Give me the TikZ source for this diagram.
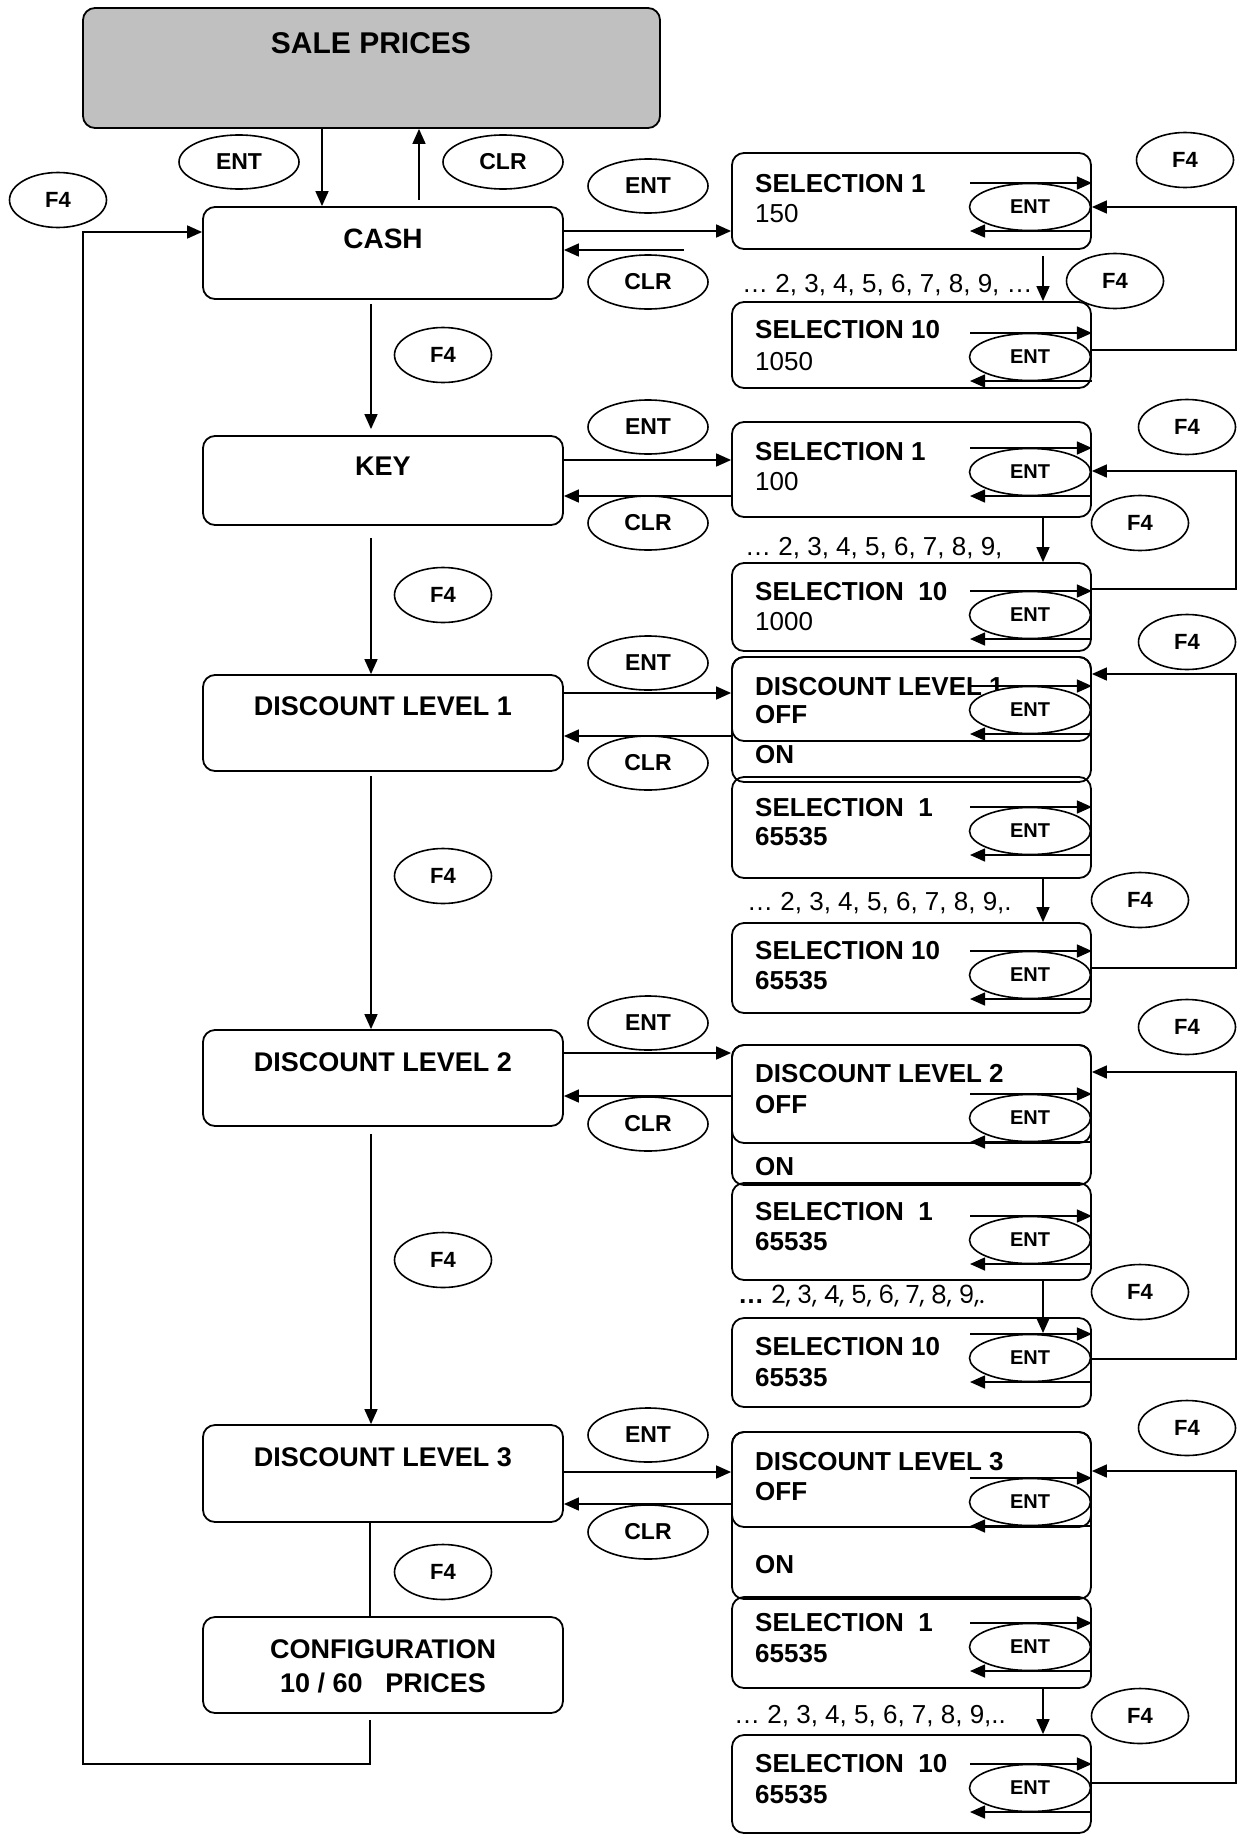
\documentclass[tikz,border=0pt]{standalone}
\usepackage{fontspec}
\setmainfont{Liberation Sans}
\newfontfamily\gothic{Poppins}
\usetikzlibrary{shapes.geometric,arrows.meta,calc}
\definecolor{salegray}{HTML}{C0C0C0}
\newcommand\fs[1]{\fontsize{#1}{#1}\selectfont}
\newcommand\rb[6][]{\node[box,#1,minimum width={(#5-#3)*1pt},minimum height={(#6-#4)*1pt}] (#2) at ({(#3+#5)/2},{(#4+#6)/2}) {};}
\newcommand\inn[2]{%
  \node[ikey] (#1e) at (1030,#2) {ENT};
  \draw[arr] (970,{#2-24}) -- (#1.east |- 0,{#2-24});
  \draw[arr] (#1.east |- 0,{#2+24}) -- (970,{#2+24});
}
\begin{document}
\begin{tikzpicture}[x=1pt,y=-1pt,
  box/.style={draw,rounded corners=12pt,line width=1.8pt,inner sep=0pt},
  key/.style={draw,ellipse,fill=white,line width=1.6pt,inner sep=0pt,minimum width=120pt,minimum height=54pt,font=\bfseries\fs{23}},
  ikey/.style={key,minimum width=121pt,minimum height=47pt,font=\bfseries\fs{20}},
  fkey/.style={key,minimum width=97pt,minimum height=55pt,font=\bfseries\fs{22}},
  arr/.style={-{Triangle[length=15pt,width=13pt]},line width=1.6pt},
  ln/.style={line width=1.6pt},
  ttl/.style={anchor=base,inner sep=0pt,font=\bfseries\fs{27}},
  stxt/.style={anchor=base west,inner sep=0pt,font=\bfseries\fs{26}},
  vtxt/.style={anchor=base west,inner sep=0pt,font=\fs{26}},
]
\useasboundingbox (0,0) rectangle (1241,1836);

% ---------- left column ----------
\rb[fill=salegray]{sale}{83}{8}{660}{128}
\node[ttl,font=\bfseries\fs{30}] (tsale) at (371,53) {SALE PRICES};
\node[key] (kent0) at (239,162) {ENT};
\node[key] (kclr0) at (503,162) {CLR};
\node[fkey] (f4l) at (58,200) {F4};

\rb{cash}{203}{207}{563}{299}
\node[ttl,font=\bfseries\fs{28}] (tcash) at (383,248) {CASH};
\rb{key}{203}{436}{563}{525}
\node[ttl] (tkey) at (383,475) {KEY};
\rb{dl1}{203}{675}{563}{771}
\node[ttl] (tdl1) at (383,715) {DISCOUNT LEVEL 1};
\rb{dl2}{203}{1030}{563}{1126}
\node[ttl] (tdl2) at (383,1071) {DISCOUNT LEVEL 2};
\rb{dl3}{203}{1425}{563}{1522}
\node[ttl] (tdl3) at (383,1466) {DISCOUNT LEVEL 3};
\rb{conf}{203}{1617}{563}{1713}
\node[ttl] (tconf1) at (383,1658) {CONFIGURATION};
\node[ttl] (tconf2) at (383,1692) {10 / 60\ \ \ PRICES};

\node[fkey] (lf1) at (443,355) {F4};
\node[fkey] (lf2) at (443,595) {F4};
\node[fkey] (lf3) at (443,876) {F4};
\node[fkey] (lf4) at (443,1260) {F4};
\node[fkey] (lf5) at (443,1572) {F4};

\draw[arr] (sale.south -| 322,0) -- (cash.north -| 322,0);
\draw[arr] ($(cash.north -| 419,0)+(0,-6)$) -- (sale.south -| 419,0);
\draw[arr] ($(cash.south -| 371,0)+(0,4)$) -- ($(key.north -| 371,0)+(0,-6)$);
\draw[arr] ($(key.south -| 371,0)+(0,12)$) -- (dl1.north -| 371,0);
\draw[arr] ($(dl1.south -| 371,0)+(0,4)$) -- (dl2.north -| 371,0);
\draw[arr] ($(dl2.south -| 371,0)+(0,7)$) -- (dl3.north -| 371,0);
\draw[ln] (dl3.south -| 370,0) -- (conf.north -| 370,0);
\coordinate (cb) at (370,1764);
\coordinate (lb) at (83,1764);
\coordinate (lt) at (83,232);
\draw[arr] ($(conf.south -| 370,0)+(0,6)$) -- (cb) -- (lb) -- (lt) -- (cash.west |- lt);

% ---------- CASH row ----------
\node[key] (ent1) at (648,186) {ENT};
\node[key] (clr1) at (648,282) {CLR};
\rb{c1}{732}{153}{1091}{249}
\rb{c10}{732}{302}{1091}{388}
\node[stxt] at (755,192) {SELECTION 1};
\node[vtxt] at (755,222) {150};
\node[stxt] at (755,338) {SELECTION 10};
\node[vtxt] at (755,370) {1050};
\node[vtxt] (dots1) at (742,292) {… 2, 3, 4, 5, 6, 7, 8, 9, …};
\inn{c1}{207}
\inn{c10}{357}
\draw[arr] (cash.east |- 0,231) -- (c1.west |- 0,231);
\coordinate (clrs1) at (684,250);
\draw[arr] (clrs1) -- (cash.east |- clrs1);
\draw[arr] ($(c1.south -| 1043,0)+(0,6)$) -- (c10.north -| 1043,0);
\node[fkey] (mf1) at (1115,281) {F4};
\node[fkey] (tf1) at (1185,160) {F4};
\draw[arr] (c10.east |- 0,350) -- (1236,350) -- (1236,207) -- (c1.east |- 0,207);

% ---------- KEY row ----------
\node[key] (ent2) at (648,427) {ENT};
\node[key] (clr2) at (648,523) {CLR};
\rb{k1}{732}{422}{1091}{517}
\rb{k10}{732}{563}{1091}{651}
\node[stxt] at (755,460) {SELECTION 1};
\node[vtxt] at (755,490) {100};
\node[stxt] at (755,600) {SELECTION\ \ 10};
\node[vtxt] at (755,630) {1000};
\node[vtxt] (dots2) at (745,555) {… 2, 3, 4, 5, 6, 7, 8, 9,};
\inn{k1}{472}
\inn{k10}{615}
\draw[arr] (key.east |- 0,460) -- (k1.west |- 0,460);
\draw[arr] (k1.west |- 0,496) -- (key.east |- 0,496);
\draw[arr] (k1.south -| 1043,0) -- (k10.north -| 1043,0);
\node[fkey] (mf2) at (1140,523) {F4};
\node[fkey] (tf2) at (1187,427) {F4};
\draw[arr] (k10.east |- 0,589) -- (1236,589) -- (1236,471) -- (k1.east |- 0,471);

% ---------- DISCOUNT LEVEL 1 row ----------
\node[key] (ent3) at (648,663) {ENT};
\node[key] (clr3) at (648,763) {CLR};
\rb{d1on}{732}{657}{1091}{782}
\rb{d1off}{732}{657}{1091}{741}
\rb{d1s1}{732}{777}{1091}{878}
\rb{d1s10}{732}{923}{1091}{1013}
\node[stxt] at (755,695) {DISCOUNT LEVEL 1};
\node[stxt] at (755,723) {OFF};
\node[stxt] at (755,763) {ON};
\node[stxt] at (755,816) {SELECTION\ \ 1};
\node[stxt] at (755,845) {65535};
\node[stxt] at (755,959) {SELECTION 10};
\node[stxt] at (755,989) {65535};
\node[vtxt] (dots3) at (747,910) {… 2, 3, 4, 5, 6, 7, 8, 9,.};
\inn{d1off}{710}
\inn{d1s1}{831}
\inn{d1s10}{975}
\draw[arr] (dl1.east |- 0,693) -- (d1off.west |- 0,693);
\draw[arr] (d1off.west |- 0,736) -- (dl1.east |- 0,736);
\draw[arr] (d1s1.south -| 1043,0) -- (d1s10.north -| 1043,0);
\node[fkey] (mf3) at (1140,900) {F4};
\node[fkey] (tf3) at (1187,642) {F4};
\draw[arr] (d1s10.east |- 0,968) -- (1236,968) -- (1236,674) -- (d1off.east |- 0,674);

% ---------- DISCOUNT LEVEL 2 row ----------
\node[key] (ent4) at (648,1023) {ENT};
\node[key] (clr4) at (648,1124) {CLR};
\rb{d2on}{732}{1045}{1091}{1185}
\rb{d2off}{732}{1045}{1091}{1143}
\rb{d2s1}{732}{1183}{1091}{1280}
\rb{d2s10}{732}{1318}{1091}{1407}
\node[stxt] at (755,1082) {DISCOUNT LEVEL 2};
\node[stxt] at (755,1113) {OFF};
\node[stxt] at (755,1175) {ON};
\node[stxt] at (755,1220) {SELECTION\ \ 1};
\node[stxt] at (755,1250) {65535};
\node[stxt] at (755,1355) {SELECTION 10};
\node[stxt] at (755,1386) {65535};
\node[vtxt] (dots4) at (738,1303) {\textbf{…} {\gothic\fs{25}2, 3, 4, 5, 6, 7, 8, 9,.}};
\inn{d2off}{1118}
\inn{d2s1}{1240}
\inn{d2s10}{1358}
\draw[arr] (dl2.east |- 0,1053) -- (d2off.west |- 0,1053);
\draw[arr] (d2off.west |- 0,1096) -- (dl2.east |- 0,1096);
\coordinate (d2t) at (1043,1333);
\draw[arr] (d2s1.south -| d2t) -- (d2t);
\node[fkey] (mf4) at (1140,1292) {F4};
\node[fkey] (tf4) at (1187,1027) {F4};
\draw[arr] (d2s10.east |- 0,1359) -- (1236,1359) -- (1236,1072) -- (d2off.east |- 0,1072);

% ---------- DISCOUNT LEVEL 3 row ----------
\node[key] (ent5) at (648,1435) {ENT};
\node[key] (clr5) at (648,1532) {CLR};
\rb{d3on}{732}{1432}{1091}{1599}
\rb{d3off}{732}{1432}{1091}{1527}
\rb{d3s1}{732}{1597}{1091}{1688}
\rb{d3s10}{732}{1735}{1091}{1833}
\node[stxt] at (755,1470) {DISCOUNT LEVEL 3};
\node[stxt] at (755,1500) {OFF};
\node[stxt] at (755,1573) {ON};
\node[stxt] at (755,1631) {SELECTION\ \ 1};
\node[stxt] at (755,1662) {65535};
\node[stxt] at (755,1772) {SELECTION\ \ 10};
\node[stxt] at (755,1803) {65535};
\node[vtxt] (dots5) at (734,1723) {… 2, 3, 4, 5, 6, 7, 8, 9,..};
\inn{d3off}{1502}
\inn{d3s1}{1647}
\inn{d3s10}{1788}
\draw[arr] (dl3.east |- 0,1472) -- (d3off.west |- 0,1472);
\draw[arr] (d3off.west |- 0,1504) -- (dl3.east |- 0,1504);
\draw[arr] (d3s1.south -| 1043,0) -- (d3s10.north -| 1043,0);
\node[fkey] (mf5) at (1140,1716) {F4};
\node[fkey] (tf5) at (1187,1428) {F4};
\draw[arr] (d3s10.east |- 0,1783) -- (1236,1783) -- (1236,1471) -- (d3off.east |- 0,1471);
\end{tikzpicture}
\end{document}
